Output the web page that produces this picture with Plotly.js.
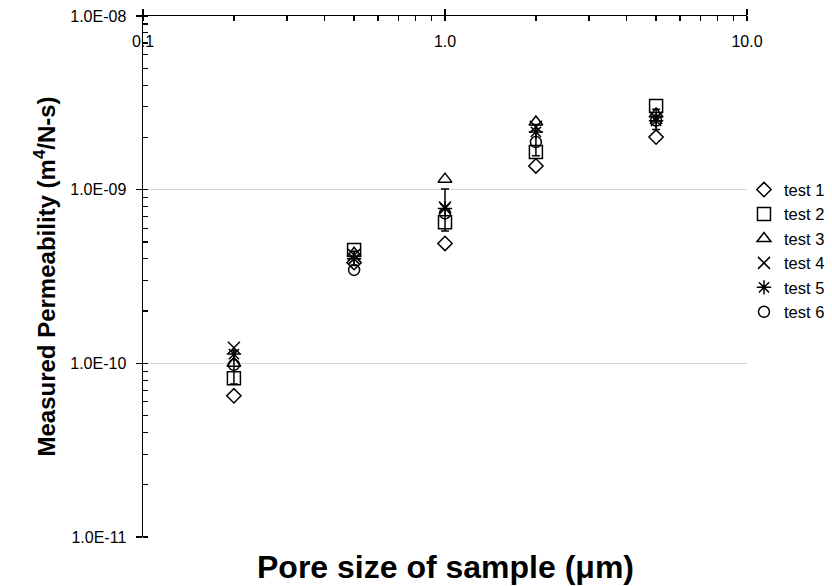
<!DOCTYPE html>
<html>
<head>
<meta charset="utf-8">
<script src="https://cdn.plot.ly/plotly-3.0.1.min.js"></script>
<style>
html,body{margin:0;padding:0;background:#fff;}
#chart{width:832px;height:586px;}
</style>
</head>
<body>
<div id="chart"></div>
<script>
// Pore sizes (µm)
const poreSize = [0.2, 0.5, 1.0, 2.0, 5.0];

// Measured permeability (m^4/N-s)
const test1 = [6.5e-11, 3.8e-10, 4.9e-10, 1.37e-9, 2.01e-9];
const test2 = [8.2e-11, 4.5e-10, 6.5e-10, 1.65e-9, 3.03e-9];
const test3 = [1.0e-10, 4.3e-10, 1.15e-9, 2.45e-9, 2.73e-9];
const test4 = [1.23e-10, 4.2e-10, 7.9e-10, 2.30e-9, 2.59e-9];
const test5 = [1.13e-10, 4.0e-10, 7.8e-10, 2.15e-9, 2.49e-9];
const test6 = [9.8e-11, 3.45e-10, 7.3e-10, 1.88e-9, 2.50e-9];

// Mean and standard deviation shown as error bars
const meanValue = [9.7e-11, 4.04e-10, 7.94e-10, 1.97e-9, 2.56e-9];
const stdDev    = [2.1e-11, 3.8e-11, 2.16e-10, 4.0e-10, 3.4e-10];

// Tick labels
const xTickVals = [0.1, 1, 10];
const xTickText = ['0.1', '1.0', '10.0'];
const yTickVals = [1e-11, 1e-10, 1e-9, 1e-8];
const yTickText = ['1.0E-11', '1.0E-10', '1.0E-09', '1.0E-08'];

const seriesNames = ['test 1', 'test 2', 'test 3', 'test 4', 'test 5', 'test 6'];
const seriesData = [test1, test2, test3, test4, test5, test6];
const symbols = ['diamond-open', 'square-open', 'triangle-up-open', 'x-thin-open', 'asterisk-open', 'circle-open'];
const sizes = [11, 13, 12, 12, 12, 11];

const FONT = 'Liberation Sans, Arial, sans-serif';

const traces = seriesData.map((ys, i) => ({
  type: 'scatter',
  mode: 'markers',
  name: seriesNames[i],
  x: poreSize,
  y: ys,
  marker: {
    symbol: symbols[i],
    size: sizes[i],
    color: '#000',
    line: {color: '#000', width: 1.5}
  },
  cliponaxis: false
}));

traces.push({
  type: 'scatter',
  mode: 'markers',
  name: 'mean',
  showlegend: false,
  x: poreSize,
  y: meanValue,
  marker: {size: 1, color: 'rgba(0,0,0,0)'},
  error_y: {type: 'data', array: stdDev, visible: true, color: '#000', thickness: 1.5, width: 4},
  hoverinfo: 'skip'
});

const layout = {
  width: 832,
  height: 586,
  margin: {l: 143, r: 85, t: 16, b: 49, pad: 0, autoexpand: false},
  paper_bgcolor: '#fff',
  plot_bgcolor: '#fff',
  font: {family: FONT, color: '#000', size: 16},
  showlegend: true,
  legend: {
    x: 0.995, xanchor: 'left',
    y: 0.70, yanchor: 'top',
    font: {family: FONT, size: 16.5, color: '#000'},
    bgcolor: 'rgba(0,0,0,0)',
    borderwidth: 0,
    itemwidth: 30,
    tracegroupgap: 0
  },
  xaxis: {
    type: 'log',
    range: [-1, 1],
    side: 'top',
    showline: true,
    linecolor: '#000',
    linewidth: 1.5,
    mirror: false,
    showgrid: false,
    zeroline: false,
    tickmode: 'array',
    tickvals: xTickVals,
    ticktext: xTickText,
    ticks: 'outside',
    ticklen: 6,
    tickwidth: 1.5,
    tickcolor: '#000',
    ticklabelstandoff: -45,
    tickfont: {family: FONT, size: 16, color: '#000'},
    minor: {dtick: 'D1', ticks: 'inside', ticklen: 5, tickwidth: 1.2, tickcolor: '#000', showgrid: false}
  },
  yaxis: {
    type: 'log',
    range: [-11, -8],
    showline: true,
    linecolor: '#000',
    linewidth: 1.5,
    mirror: false,
    showgrid: true,
    gridcolor: '#d4d4d4',
    gridwidth: 1,
    zeroline: false,
    tickmode: 'array',
    tickvals: yTickVals,
    ticktext: yTickText,
    ticks: 'outside',
    ticklen: 6,
    tickwidth: 1.5,
    tickcolor: '#000',
    ticklabelstandoff: 6,
    tickfont: {family: FONT, size: 16, color: '#000'},
    minor: {dtick: 'D1', ticks: 'inside', ticklen: 5, tickwidth: 1.2, tickcolor: '#000', showgrid: false},
    title: {
      text: 'Measured Permeability (m<sup>4</sup>/N-s)',
      font: {family: FONT, size: 24, color: '#000', weight: 'bold'},
      standoff: 8
    }
  },
  annotations: [{
    xref: 'paper', yref: 'paper',
    x: 0.5, y: -0.058,
    xanchor: 'center', yanchor: 'middle',
    showarrow: false,
    text: 'Pore size of sample (\u03bcm)',
    font: {family: FONT, size: 32, color: '#000', weight: 'bold'}
  }]
};

Plotly.newPlot('chart', traces, layout, {displayModeBar: false, staticPlot: true});
</script>
</body>
</html>
